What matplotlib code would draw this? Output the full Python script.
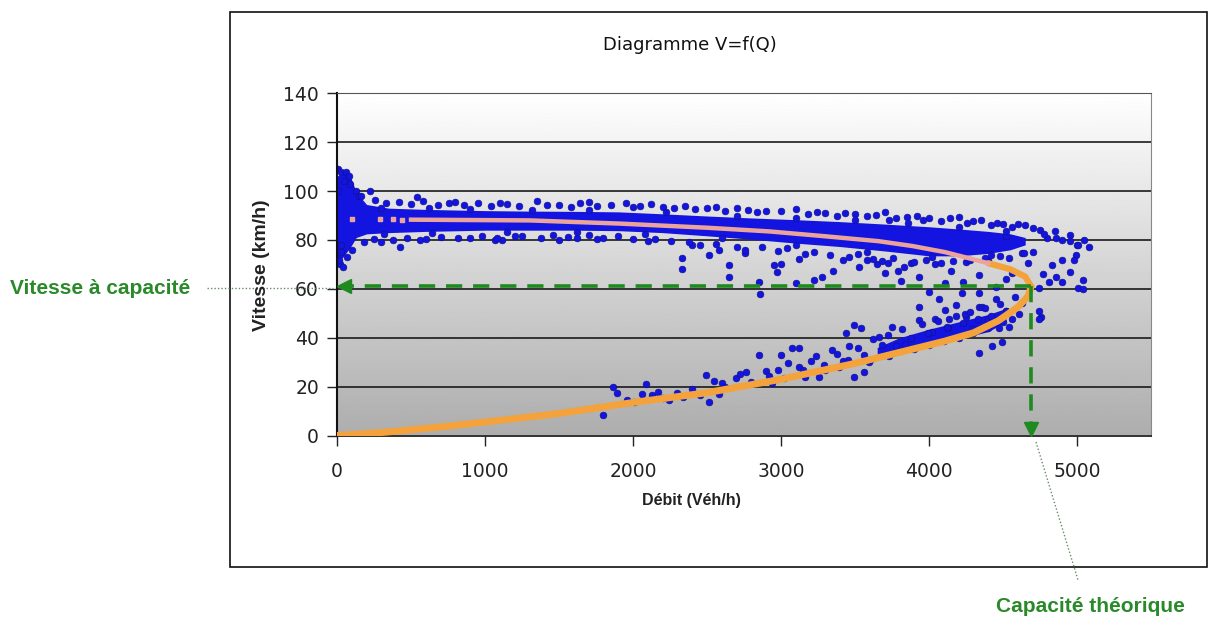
import numpy as np
import matplotlib
matplotlib.use("Agg")
import matplotlib.pyplot as plt
from matplotlib.lines import Line2D
from matplotlib.patches import Rectangle

# ---- data ----
# fitted curve V=f(Q), lower (congested) branch then upper (fluid) branch
curve_low_q = [0, 300, 700, 1000, 1500, 2000, 2500, 3000, 3500, 3800, 4100, 4300, 4470, 4600, 4670, 4690]
curve_low_v = [0, 1.2, 3.5, 5.5, 9, 13.5, 17.5, 23, 29.5, 34, 38.5, 42, 47, 52.5, 57, 61]
curve_up_q = [4690, 4650, 4550, 4400, 4110, 3890, 3660, 3300, 2920, 2500, 1910, 1300, 500]
curve_up_v = [61, 65, 68, 70.5, 75, 77.5, 79.5, 81.5, 83.5, 85, 86.7, 88, 88.3]
curve_start_q = [100, 290, 380, 440]
curve_start_v = [88.5, 88.4, 88.4, 88.3]

# dense part of the cloud (solid blue envelope), fluid branch
core_q = [0, 40, 90, 130, 200, 350, 600, 1000, 1300, 1600, 1900, 2200, 2500, 2800, 3100,
          3400, 3700, 4000, 4200, 4400, 4550, 4650]
core_hi = [106, 108, 106, 99.5, 94.5, 93, 92.5, 92, 91.8, 91.7, 91.5, 90.7, 89.8, 89, 88.3,
           87.5, 86.5, 85.4, 84.5, 83.5, 82.5, 81]
core_lo = [71, 73, 77, 81, 82.5, 83, 83.5, 84, 84, 84, 83.8, 83, 81.7, 80.3, 78.7,
           77.3, 75.5, 73.5, 73.5, 74.5, 76, 78]

# dense part, congested branch
core2_q = [3650, 3800, 4000, 4200, 4400, 4520]
core2_hi = [36, 40, 43.5, 46.5, 49.5, 52]
core2_lo = [32, 34, 36.5, 39.5, 42.5, 46.5]

# single points around the dense parts
pts_q = [10, 30, 60, 80, 20, 40, 15, 70, 100, 90, 130, 150, 30, 50, 5, 25,
         220, 540, 800, 1100, 1350, 1500, 1700, 1850, 1950, 2050, 2200, 2350, 2500, 2700,
         2900, 3100, 3300, 3500, 3700, 3850, 4000, 4200, 4350, 4500, 4650, 4750, 4850, 4950,
         5050, 5000, 4900, 3730,
         425, 1067, 1115, 1620, 300, 600, 900, 1200, 1500, 1800, 2100, 2400,
         2330, 2515, 2650, 2580, 2950, 2970, 3120, 3280, 3350, 3530, 3580, 3830, 3100, 2850,
         2330, 2650, 3220, 2860, 2760, 3000, 3420, 3650,
         5010, 5080, 4990, 4950, 4860, 4800, 4980, 4900, 4830, 4950, 5040, 4900, 4860, 4770,
         5005, 5040, 4810, 4740, 4760, 4740, 4745, 4625, 4670, 4625, 4560, 4520, 4450,
         4000, 4070, 4110, 4180, 4250, 4340, 4400, 4450, 4520, 4225, 4340, 4110, 3930, 4040,
         4130, 4290, 4470, 4560,
         3700, 3790, 3930, 3880, 4040, 4150, 4250, 4340, 4400, 4520, 4230, 3720, 3810,
         1795, 1862, 1895, 2090, 2010, 2130, 2170, 2245, 2335, 2450, 2495, 2515, 2580, 2600,
         2695, 2765, 2850, 2900, 2940, 3000, 3020, 3075, 3120, 3120, 3160, 3235, 3255, 3345,
         3390, 3440, 3495, 3490, 3540, 3595, 3660, 3730, 3750, 3840, 3930, 4020, 4133, 4245,
         4356, 4490, 4540, 4605, 4425, 4340, 3300, 3450, 3560]
pts_v = [109, 108, 108, 106, 70, 69, 72, 73, 76, 103, 100, 98, 75, 104, 100, 78,
         100, 97.7, 95.5, 95, 96, 94.5, 95.5, 94.5, 95, 94, 93.5, 94, 93, 93,
         92, 92.5, 91, 90.5, 91.5, 89.5, 89, 89.5, 88, 86.5, 86, 84, 83.5, 82,
         80, 78, 80, 88,
         77, 80, 80, 81, 79, 80.5, 81, 81.5, 80, 81, 79.5, 78,
         72.8, 73.7, 69.6, 75.7, 69.6, 66.7, 72.4, 64.7, 67.5, 68.8, 71.6, 68.8, 62.2, 62.6,
         68, 65, 63.5, 57.8, 74.5, 70, 72, 70,
         77.8, 77, 73.7, 79.6, 81, 81, 71.6, 71.6, 69.6, 66.9, 63.6, 62.8, 65, 66,
         60.5, 59.9, 62.8, 60.5, 48.4, 47.6, 50.8, 54.1, 70.4, 74.5, 66.3, 81.5, 60.6,
         58.6, 55.7, 51.2, 53.3, 48.4, 52.5, 47.6, 55.7, 50.8, 58.2, 58.2, 62.2, 52.5, 47.6,
         43.9, 43.5, 43.9, 47.6,
         66.3, 67.5, 65, 70.4, 70, 67.5, 70.8, 65.5, 71.6, 64.2, 62.6, 70.4, 63.2,
         8.4, 19.8, 17.3, 21, 13.7, 16.6, 18, 14.5, 15.8, 16.6, 24.7, 13.7, 17.1, 21.4,
         23.4, 25.9, 32.8, 26.5, 21.4, 32.8, 23.4, 35.7, 35.7, 28.2, 24.1, 32.4, 24.1, 34.9,
         28.2, 41.8, 23.9, 45.1, 43.8, 30, 40.2, 32.4, 44.4, 37.6, 47.1, 42.3, 47.8, 49.9,
         52.6, 38.2, 44.3, 49.7, 36.8, 33.6, 27, 31, 26]

# ragged edges of the dense fluid band
top_q = [160, 260, 330, 420, 500, 580, 680, 760, 860, 950, 1040, 1150, 1230, 1420, 1580, 1640,
         1760, 2000, 2120, 2280, 2420, 2560, 2620, 2780, 2840, 3000, 3180, 3240, 3380, 3430,
         3580, 3640, 3780, 3920, 3960, 4080, 4140, 4260, 4300, 4420, 4460, 4560, 4600, 4700, 4780,
         300, 620, 900, 1320, 1700, 2220, 2700, 3100, 3500, 3860, 4200, 4520]
top_v = [98, 96.5, 95, 95.5, 94.8, 96, 94.5, 95, 94.2, 95.3, 94, 94.6, 93.8, 94.3, 93.6, 95,
         94, 93.6, 94.8, 93, 92.6, 93.5, 92, 92.4, 91.5, 91.8, 90.8, 91.6, 90, 91,
         89.6, 90.4, 88.8, 89.6, 88, 87.6, 88.8, 86.8, 87.8, 86, 87, 85.2, 86.4, 84.8, 82.6,
         93.2, 93, 92.6, 92.2, 92.4, 91.6, 90, 88.9, 88, 86.8, 85.2, 83.6]
bot_q = [180, 250, 380, 470, 560, 700, 820, 980, 1080, 1250, 1380, 1460, 1560, 1700, 1760, 1900,
         2000, 2150, 2260, 2380, 2450, 2560, 2700, 2760, 2870, 2980, 3040, 3160, 3220, 3330,
         3460, 3520, 3620, 3680, 3760, 3900, 3980, 4080, 4160, 4280, 4380, 4480, 4540, 4640, 4700,
         320, 640, 1150, 1620, 2080, 2600, 3100, 3580, 4020, 4420]
bot_v = [79, 80.5, 80, 81, 79.8, 81.2, 80.6, 81.6, 80.8, 81.8, 81, 82, 81.2, 82, 80.5, 81.5,
         80.2, 80.4, 79.6, 79, 77.8, 78.4, 77, 76, 77.2, 75.6, 76.6, 74.4, 75.2, 74,
         73.2, 74.2, 72.4, 71.5, 72.6, 70.8, 71.6, 70.5, 71.2, 72, 72.6, 73.4, 72.5, 74.6, 75.2,
         82.6, 83, 83.4, 83.2, 82.4, 81, 78, 75.2, 73, 73.8]

# edges of the congested branch and its sparse tail
low_q = [3520, 3560, 3620, 3680, 3720, 3780, 3820, 3880, 3950, 3990, 4060, 4120, 4180, 4230,
         4280, 4330, 4380, 4420, 4480, 4520, 4580, 3600, 3700, 3800, 3900, 4000, 4100, 4200,
         4300, 4400, 4500, 3380, 3420, 3460, 3290, 3200, 3150, 3050, 2980, 2920, 2800, 2720,
         2620, 2550, 2400, 2300, 2200, 2060, 1960]
low_v = [36, 33, 39.5, 37, 41, 36.5, 43.5, 40, 45.8, 42, 47, 44.5, 49, 46, 50.5, 47.5, 52, 49,
         54, 51, 56.5, 31, 33, 34.5, 35.5, 37, 38.6, 40, 42, 44, 46.5, 33.5, 30.5, 36.8, 29,
         30.5, 27, 29.5, 27, 24.5, 22, 25, 20, 22.2, 19, 17.5, 15.5, 17, 14.5]

capacity_q = 4690
capacity_v = 61

x_ticks = [0, 1000, 2000, 3000, 4000, 5000]
y_ticks = [0, 20, 40, 60, 80, 100, 120, 140]

BLUE = "#1414e0"
GREEN = "#2a8a2a"
ORANGE = "#f4a23c"
PINK = "#eba49c"

fig = plt.figure(figsize=(12.1, 6.23), dpi=100)
fig.patch.set_facecolor("white")

# outer frame of the chart
fig.patches.append(Rectangle((230 / 1210, 1 - 567 / 623), (1207 - 230) / 1210, (567 - 12) / 623,
                             transform=fig.transFigure, fill=False, edgecolor="#111111", lw=1.2))

ax = fig.add_axes([337 / 1210, 1 - 435.5 / 623, (1151 - 337) / 1210, (435.5 - 93.3) / 623])

# grey gradient background of the plot area (white at top, grey at bottom)
grad = np.linspace(1.0, 0.68, 256).reshape(-1, 1)
ax.imshow(grad, cmap="gray", vmin=0, vmax=1, aspect="auto", extent=[0, 5500, 0, 140],
          origin="upper", zorder=0)
ax.set_xlim(0, 5500)
ax.set_ylim(0, 140)

for y in y_ticks[1:-1]:
    ax.axhline(y, color="#1a1a1a", lw=1.2, zorder=1)

# the cloud of measured points
ax.fill_between(core_q, core_lo, core_hi, color=BLUE, lw=0, zorder=2)
ax.fill_between(core2_q, core2_lo, core2_hi, color=BLUE, lw=0, zorder=2)
for qs, vs in [(pts_q, pts_v), (top_q, top_v), (bot_q, bot_v), (low_q, low_v)]:
    ax.scatter(qs, vs, s=24, marker="o", color=BLUE, edgecolors="#101080",
               linewidths=0.4, zorder=2)

# fitted curve
ax.plot(curve_low_q, curve_low_v, color=ORANGE, lw=5, solid_capstyle="round", zorder=3)
ax.plot(curve_up_q[:4], curve_up_v[:4], color=ORANGE, lw=4.5, solid_capstyle="round", zorder=3)
ax.plot(curve_up_q[3:], curve_up_v[3:], color=PINK, lw=3.2, zorder=3)
ax.scatter(curve_start_q, curve_start_v, s=10, marker="s", color=PINK, zorder=3)

# capacity markers
ax.plot([capacity_q, 60], [capacity_v, capacity_v], color="#1f8a1f", lw=2.6,
        linestyle=(0, (4.5, 3)), zorder=4)
ax.plot([capacity_q, capacity_q], [capacity_v, 2.5], color="#1f8a1f", lw=2.6,
        linestyle=(0, (4.5, 3)), zorder=4)
ax.plot([45], [capacity_v], marker="<", ms=10, color="#1f8a1f", clip_on=False, zorder=5)
ax.plot([capacity_q], [2.6], marker="v", ms=10, color="#1f8a1f", clip_on=False, zorder=5)

ax.set_xticks(x_ticks)
ax.set_yticks(y_ticks)
ax.tick_params(axis="both", direction="out", length=7, width=1, color="#222222",
               labelsize=13.5, labelcolor="#222222")
ax.tick_params(axis="x", pad=12)
ax.tick_params(axis="y", pad=6)
for lab in ax.get_xticklabels() + ax.get_yticklabels():
    lab.set_family("DejaVu Sans")

ax.spines["left"].set_color("#111111")
ax.spines["left"].set_linewidth(1.5)
ax.spines["bottom"].set_color("#222222")
ax.spines["bottom"].set_linewidth(1.3)
ax.spines["top"].set_color("#555555")
ax.spines["right"].set_color("#888888")

fig.text(690 / 1210, 1 - 45 / 623, "Diagramme V=f(Q)", ha="center", va="center",
         fontsize=13, family="DejaVu Sans", color="#111111")
fig.text(691 / 1210, 1 - 500 / 623, "Débit (Véh/h)", ha="center", va="center",
         fontsize=11.5, weight="bold", family="Liberation Sans", color="#222222")
fig.text(262 / 1210, 1 - 265 / 623, "Vitesse (km/h)", ha="center", va="center",
         rotation=90, fontsize=14, weight="bold", family="Liberation Sans", color="#222222")

# callouts outside the chart
fig.text(10 / 1210, 1 - 288 / 623, "Vitesse à capacité", ha="left", va="center",
         fontsize=15, weight="bold", family="Liberation Sans", color=GREEN)
fig.text(1090 / 1210, 1 - 606 / 623, "Capacité théorique", ha="center", va="center",
         fontsize=15, weight="bold", family="Liberation Sans", color=GREEN)
fig.lines.append(Line2D([207 / 1210, 333 / 1210], [1 - 288 / 623, 1 - 288 / 623],
                        transform=fig.transFigure, color="#6a8a6a", lw=1, ls=(0, (1, 1.5))))
fig.lines.append(Line2D([1036 / 1210, 1078 / 1210], [1 - 442 / 623, 1 - 580 / 623],
                        transform=fig.transFigure, color="#6a8a6a", lw=1, ls=(0, (1, 1.5))))

fig.savefig("out.png", dpi=100)
